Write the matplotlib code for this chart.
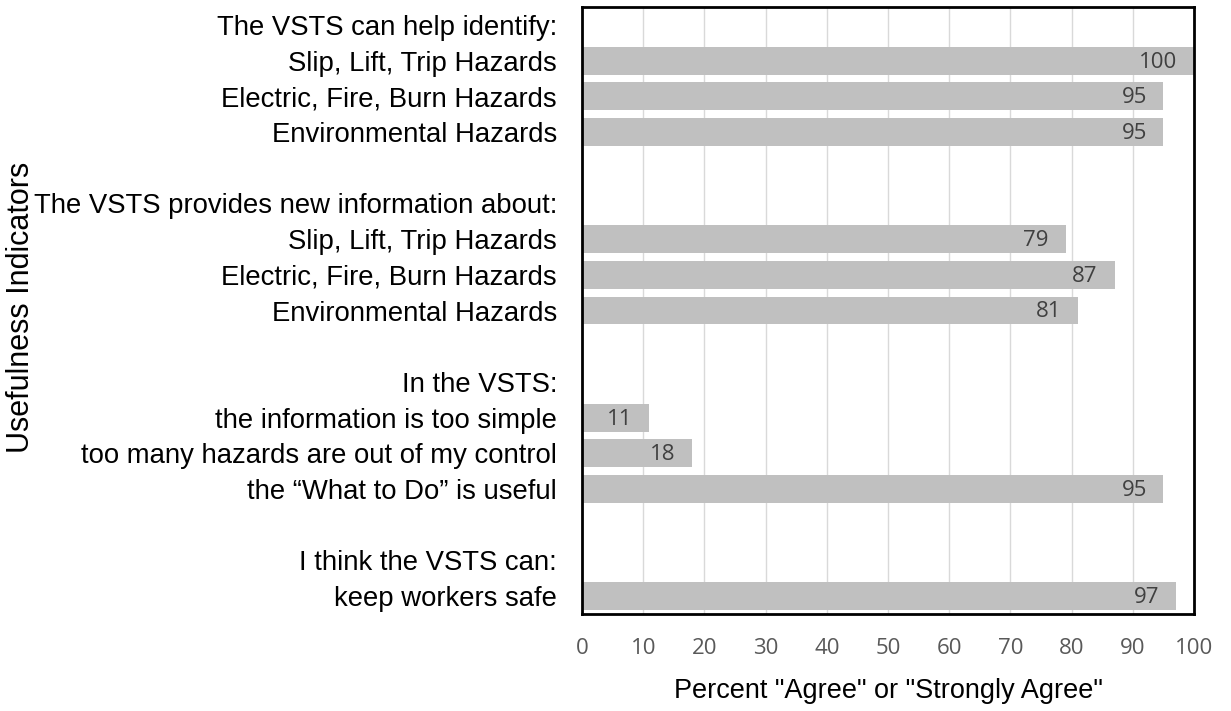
import matplotlib.pyplot as plt
import numpy as np

# rows top to bottom; None = header / spacer row without a bar
labels = [
    "The VSTS can help identify:",
    "Slip, Lift, Trip Hazards",
    "Electric, Fire, Burn Hazards",
    "Environmental Hazards",
    "",
    "The VSTS provides new information about:",
    "Slip, Lift, Trip Hazards",
    "Electric, Fire, Burn Hazards",
    "Environmental Hazards",
    "",
    "In the VSTS:",
    "the information is too simple",
    "too many hazards are out of my control",
    "the \u201cWhat to Do\u201d is useful",
    "",
    "I think the VSTS can:",
    "keep workers safe",
]
values = [None, 100, 95, 95, None, None, 79, 87, 81, None,
          None, 11, 18, 95, None, None, 97]

xticks = list(range(0, 101, 10))

fig = plt.figure(figsize=(12.31, 7.11), dpi=100)
ax = fig.add_axes([0.4728, 0.1364, 0.4972, 0.8536])

ypos = np.arange(len(labels))
for y, v in zip(ypos, values):
    if v is None:
        continue
    ax.barh(y, v, height=0.78, color="#c0c0c0", zorder=2)
    ax.annotate(str(v), xy=(v, y), xytext=(-12, -1), textcoords="offset points",
                ha="right", va="center", fontsize=16, color="#404040",
                family="Open Sans", zorder=3)

ax.set_ylim(len(labels) - 0.5, -0.5)
ax.set_xlim(0, 100)
ax.set_yticks(ypos)
ax.set_yticklabels(labels, family="Liberation Sans", fontsize=19.8, color="black")
ax.set_xticks(xticks)
ax.set_xticklabels([str(t) for t in xticks], family="Open Sans", fontsize=16,
                   color="#595959")
ax.tick_params(axis="both", length=0)
ax.tick_params(axis="x", pad=17)
ax.tick_params(axis="y", pad=18)

ax.grid(axis="x", color="#d9d9d9", linewidth=1, zorder=0)
ax.set_axisbelow(True)
for s in ax.spines.values():
    s.set_linewidth(2)
    s.set_color("black")

ax.set_xlabel('Percent "Agree" or "Strongly Agree"', family="Liberation Sans",
              fontsize=19.5, labelpad=14)
fig.text(0.017, 0.567, "Usefulness Indicators", rotation=90, va="center", ha="center",
         family="Liberation Sans", fontsize=22)

fig.savefig("out.png", dpi=100)
